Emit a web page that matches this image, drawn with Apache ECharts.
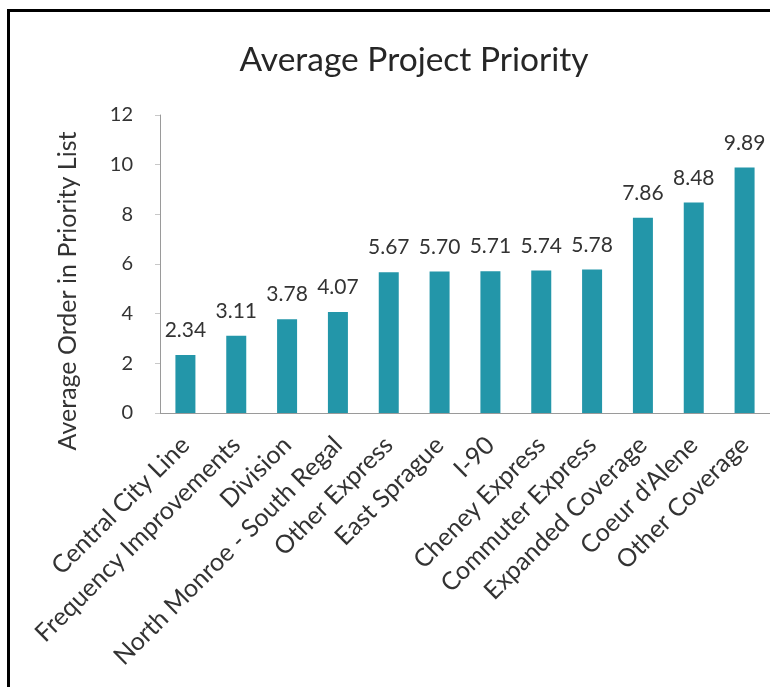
<!DOCTYPE html>
<html>
<head>
<meta charset="utf-8">
<title>Average Project Priority</title>
<script src="https://cdn.jsdelivr.net/npm/echarts@6/dist/echarts.min.js"></script>
<style>
  html, body { margin: 0; padding: 0; background: #fff; }
  #frame { position: absolute; left: 7px; top: 9px; width: 780px; height: 700px;
           border-left: 3px solid #000; border-top: 3px solid #000; box-sizing: border-box; }
  #chart { position: absolute; left: 0; top: 0; width: 770px; height: 687px; }
</style>
</head>
<body>
<div id="frame"></div>
<div id="chart"></div>
<script>
// Projects, ordered from highest to lowest priority
const categories = [
  'Central City Line', 'Frequency Improvements', 'Division',
  'North Monroe - South Regal', 'Other Express', 'East Sprague', 'I-90',
  'Cheney Express', 'Commuter Express', 'Expanded Coverage',
  "Coeur d'Alene", 'Other Coverage'
];
// Average position of each project in respondents' priority lists
const averageOrder = [2.34, 3.11, 3.78, 4.07, 5.67, 5.70, 5.71, 5.74, 5.78, 7.86, 8.48, 9.89];
// Value axis range
const yMin = 0, yMax = 12, yStep = 2;

const font = 'Lato, "Open Sans", sans-serif';
const chart = echarts.init(document.getElementById('chart'), null, { renderer: 'canvas' });

chart.setOption({
  backgroundColor: 'transparent',
  animation: false,
  title: {
    text: 'Average Project Priority',
    left: 409, top: 38, textAlign: 'center',
    textStyle: { fontFamily: font, fontSize: 33.5, fontWeight: 'normal', color: '#262626' }
  },
  grid: { left: 160, top: 115, width: 612, bottom: 274, containLabel: false },
  xAxis: {
    type: 'category',
    data: categories,
    axisLine: { lineStyle: { color: '#9a9a9a', width: 1 } },
    axisTick: { show: false },
    axisLabel: {
      rotate: 45, interval: 0, margin: 28,
      fontFamily: font, fontSize: 25, color: '#333'
    }
  },
  yAxis: {
    type: 'value',
    min: yMin, max: yMax, interval: yStep,
    name: 'Average Order in Priority List',
    nameLocation: 'middle', nameGap: 80, nameRotate: 90,
    nameTextStyle: { fontFamily: font, fontSize: 25, color: '#333', padding: [0, 54, 0, 0] },
    axisLine: { show: true, lineStyle: { color: '#9a9a9a', width: 1 } },
    axisTick: { show: true, inside: false, length: 5, lineStyle: { color: '#c8c8c8' } },
    splitLine: { show: false },
    axisLabel: { fontFamily: font, fontSize: 20, color: '#333', margin: 27 }
  },
  series: [{
    type: 'bar',
    data: averageOrder,
    barWidth: 20,
    itemStyle: { color: '#2396a9' },
    label: {
      show: true, position: 'top', distance: 14,
      formatter: p => p.value.toFixed(2),
      fontFamily: font, fontSize: 21, color: '#333'
    }
  }]
});
</script>
</body>
</html>
